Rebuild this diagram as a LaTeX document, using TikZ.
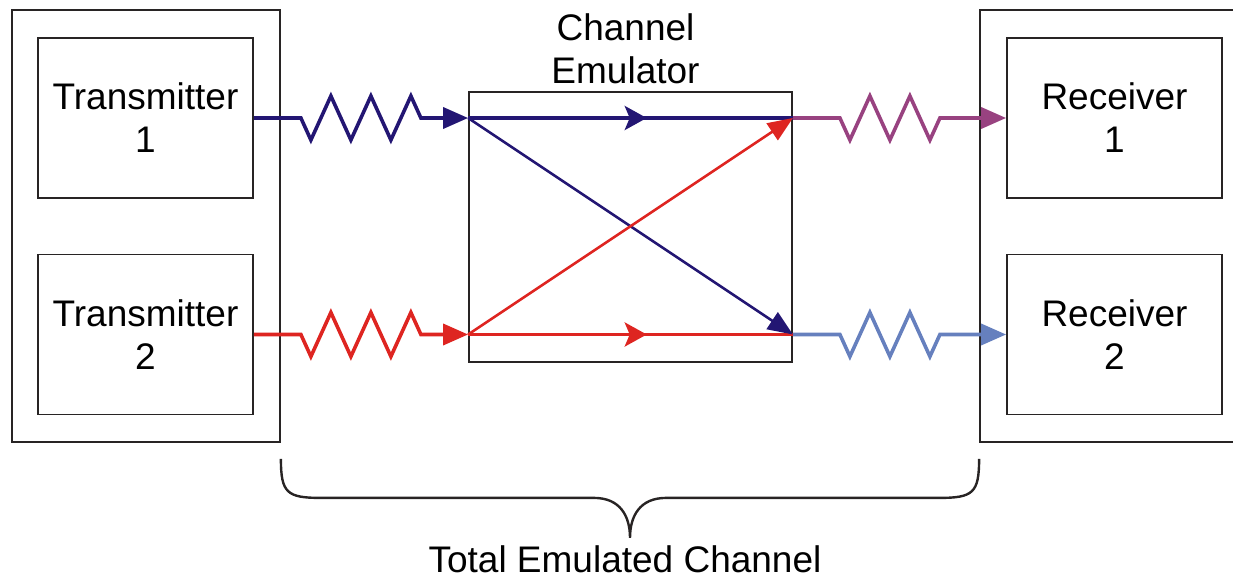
\documentclass[tikz,border=0pt]{standalone}
\usepackage{fontspec}
\setmainfont{Liberation Sans}
\usepackage{tikz}
\usetikzlibrary{arrows.meta,positioning,calc,decorations.pathmorphing,decorations.markings}
\definecolor{txblue}{RGB}{35,22,115}
\definecolor{txred}{RGB}{222,37,33}
\definecolor{rxpurple}{RGB}{152,66,128}
\definecolor{rxblue}{RGB}{102,128,190}
\definecolor{boxgray}{RGB}{40,36,36}

\begin{document}
\begin{tikzpicture}[
 x=1pt,y=-1pt,
 every node/.style={font=\fontsize{37}{43}\selectfont,align=center,inner sep=0pt},
 unit/.style={draw=boxgray,line width=1.8pt,minimum width=215pt,minimum height=160pt},
 rack/.style={draw=boxgray,line width=1.8pt,minimum width=268pt,minimum height=432pt},
 emulator/.style={draw=boxgray,line width=1.8pt,minimum width=323pt,minimum height=270pt},
 cable/.style={line width=3.6pt,-{Triangle[length=25pt,width=21pt]},decorate,
  decoration={zigzag,mirror,segment length=40pt,amplitude=22pt,pre length=47pt,post length=47pt}},
 flow/.style={line width=3.6pt,postaction={decorate},
  decoration={markings,mark=at position 0.55 with {\arrow{Stealth[length=22pt,width=24pt,inset=5pt]}}}},
 cross/.style={line width=2.6pt,-{Triangle[length=25pt,width=20pt]}},
 brace/.style={draw=boxgray,line width=2.4pt}
]
\useasboundingbox (0,0) rectangle (1233,580);
\clip (0,0) rectangle (1233,580);
% transmitter and receiver sides
\node[rack] (txrack) at (146,226) {};
\node[unit] (tx1) at (145.5,118) {Transmitter\\1};
\node[unit] (tx2) at (145.5,334.5) {Transmitter\\2};
\node[rack] (rxrack) at (1114,226) {};
\node[unit] (rx1) at (1114.5,118) {Receiver\\1};
\node[unit] (rx2) at (1114.5,334.5) {Receiver\\2};
% emulator in the middle
\node[emulator] (emu) at (630.5,227) {};
\node[above=7pt of emu,xshift=-5pt] (emulabel) {Channel\\Emulator};
\coordinate (in1) at (emu.west |- tx1.east);
\coordinate (in2) at (emu.west |- tx2.east);
\coordinate (out1) at (emu.east |- rx1.west);
\coordinate (out2) at (emu.east |- rx2.west);
% cables
\draw[cable,txblue] (tx1.east) -- (in1);
\draw[cable,txred] (tx2.east) -- (in2);
\draw[cable,rxpurple] (out1) -- (rx1.west);
\draw[cable,rxblue] (out2) -- (rx2.west);
% paths through the emulator
\draw[flow,txblue] (in1) -- (out1);
\draw[flow,txred] (in2) -- (out2);
\draw[cross,txblue] (in1) -- (out2);
\draw[cross,txred] (in2) -- (out1);
% brace under the whole channel
\coordinate (bl) at ([yshift=-16pt]txrack.south east);
\coordinate (br) at ([yshift=-16pt]rxrack.south west);
\coordinate (tip) at ($(bl)!0.5!(br)+(0,79)$);
\draw[brace] (bl) .. controls +(0,34) and +(-34,0) .. ([shift={(40,39)}]bl)
 -- ([shift={(-36,-40)}]tip) .. controls +(26,0) and +(0,-22) .. (tip)
 .. controls +(0,-22) and +(-26,0) .. ([shift={(36,-40)}]tip)
 -- ([shift={(-40,39)}]br) .. controls +(34,0) and +(0,34) .. (br);
\node[below=8pt of tip,xshift=-5pt] (total) {Total Emulated Channel};
\end{tikzpicture}
\end{document}
